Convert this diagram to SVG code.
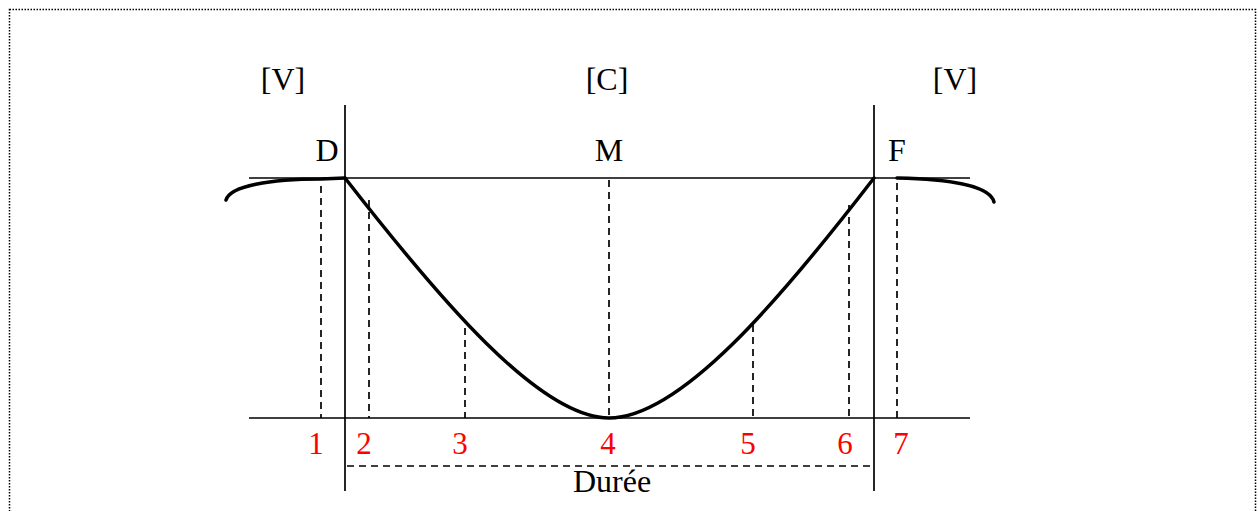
<svg xmlns="http://www.w3.org/2000/svg" width="1258" height="511" viewBox="0 0 1258 511">
<style>
.t{font-family:"Liberation Serif",serif;font-size:32px;fill:#000;text-anchor:middle}
.r{font-family:"Liberation Serif",serif;font-size:31px;fill:#ff0000;text-anchor:middle}
.ax{stroke:#000;stroke-width:1.7;fill:none}
.d{stroke:#000;stroke-width:1.7;stroke-dasharray:7,5;fill:none}
.c{stroke:#000;stroke-width:3.5;fill:none;stroke-linecap:round}
</style>
<rect width="1258" height="511" fill="#fff"/>
<rect x="9.5" y="9.5" width="1246" height="520" fill="none" stroke="#000" stroke-width="1.5" stroke-dasharray="1.5,1.5"/>
<g id="axes">
<line class="ax" x1="249" y1="178" x2="970" y2="178"/>
<line class="ax" x1="249" y1="418" x2="970" y2="418"/>
<line class="ax" x1="345" y1="105" x2="345" y2="491"/>
<line class="ax" x1="874" y1="105" x2="874" y2="491"/>
</g>
<g id="connectors">
<line class="d" x1="321" y1="186" x2="321" y2="418"/>
<line class="d" x1="369" y1="200" x2="369" y2="418"/>
<line class="d" x1="465" y1="328" x2="465" y2="418"/>
<line class="d" x1="609" y1="180" x2="609" y2="418"/>
<line class="d" x1="753" y1="325" x2="753" y2="418"/>
<line class="d" x1="849" y1="205" x2="849" y2="418"/>
<line class="d" x1="897" y1="183" x2="897" y2="418"/>
<line class="d" x1="347" y1="466" x2="871" y2="466"/>
</g>
<g id="curve">
<path class="c" d="M345,178 C440,300 540,418 609,418 C680,418 780,300 874,178"/>
<path class="c" d="M345,178 L321,179 C270,179 230,186 226,200"/>
<path class="c" d="M897,178 C950,179 990,186 994,202"/>
</g>
<g id="labels">
<text class="t" x="283" y="90">[V]</text>
<text class="t" x="607" y="90">[C]</text>
<text class="t" x="955" y="90">[V]</text>
<text class="t" x="327" y="161">D</text>
<text class="t" x="609" y="161">M</text>
<text class="t" x="897" y="161">F</text>
<text class="r" x="316" y="454">1</text>
<text class="r" x="364" y="454">2</text>
<text class="r" x="460" y="454">3</text>
<text class="r" x="608" y="454">4</text>
<text class="r" x="748" y="454">5</text>
<text class="r" x="845" y="454">6</text>
<text class="r" x="901" y="454">7</text>
<text class="t" x="612" y="492">Durée</text>
</g>
</svg>
